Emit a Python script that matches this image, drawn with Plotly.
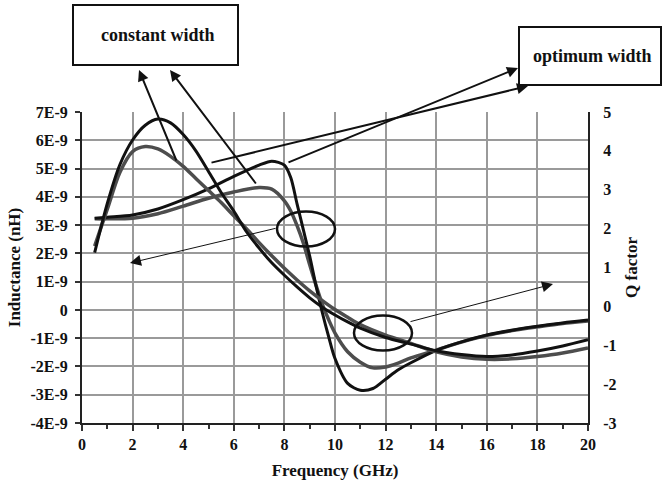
import numpy as np
import plotly.graph_objects as go

# ---------------- data ----------------
freq_L = [0.5, 1, 2, 3, 4, 5, 6, 7, 7.5, 8, 8.25, 8.5, 8.75, 9, 9.25, 9.5, 9.75,
          10, 10.5, 11, 11.5, 12, 12.5, 13, 14, 15, 16, 17, 18, 19, 20]
# inductance in nH (plotted in H)
L_const = [3.22, 3.22, 3.24, 3.40, 3.67, 3.95, 4.17, 4.33, 4.27, 3.86, 3.50, 2.98, 2.36, 1.60, 0.87, 0.20, -0.35,
           -0.82, -1.48, -1.85, -2.05, -2.02, -1.88, -1.70, -1.42, -1.14, -0.90, -0.73, -0.60, -0.48, -0.39]
L_opt = [3.24, 3.28, 3.36, 3.57, 3.90, 4.28, 4.72, 5.12, 5.26, 5.12, 4.68, 3.75, 2.83, 1.90, 0.85, -0.10, -0.95,
         -1.72, -2.60, -2.84, -2.78, -2.45, -2.12, -1.87, -1.43, -1.13, -0.89, -0.72, -0.58, -0.46, -0.36]

freq_Q = [0.5, 1, 1.5, 2, 2.5, 3, 3.5, 4, 4.5, 5, 5.5, 6, 6.5, 7, 7.5, 8, 8.5, 9, 9.5,
          10, 10.5, 11, 12, 13, 14, 15, 16, 17, 18, 19, 20]
Q_const = [1.55, 2.50, 3.45, 3.98, 4.11, 4.05, 3.86, 3.60, 3.29, 2.98, 2.67, 2.33, 2.00, 1.64, 1.30, 0.98, 0.68, 0.40, 0.15,
           -0.08, -0.28, -0.47, -0.74, -0.95, -1.17, -1.30, -1.36, -1.35, -1.29, -1.20, -1.07]
Q_opt = [1.38, 2.65, 3.65, 4.28, 4.66, 4.82, 4.72, 4.42, 4.00, 3.47, 2.93, 2.45, 1.92, 1.50, 1.12, 0.80, 0.50, 0.22, -0.02,
         -0.22, -0.40, -0.56, -0.80, -0.97, -1.14, -1.24, -1.29, -1.25, -1.15, -1.02, -0.86]

ind_tickvals = [7, 6, 5, 4, 3, 2, 1, 0, -1, -2, -3, -4]
ind_ticktext = ["7E-9", "6E-9", "5E-9", "4E-9", "3E-9", "2E-9", "1E-9", "0",
                "-1E-9", "-2E-9", "-3E-9", "-4E-9"]
q_tickvals = [5, 4, 3, 2, 1, 0, -1, -2, -3]
freq_ticks = [0, 2, 4, 6, 8, 10, 12, 14, 16, 18, 20]

# ---------------- figure ----------------
W, H = 662, 482
ML, MR, MT, MB = 82, 74, 112, 59
PW, PH = W - ML - MR, H - MT - MB

def px(x):
    return (x - ML) / PW

def py(y):
    return (H - MB - y) / PH

def bold(s):
    return "<b>" + str(s) + "</b>"

FONT = "Liberation Serif"
BLACK = "#111111"
GRAY = "#4d4d4d"

fig = go.Figure()
scale = 1e-9
fig.add_trace(go.Scatter(x=freq_L, y=np.array(L_const) * scale, mode="lines",
                         line=dict(color=GRAY, width=3.5, shape="spline", smoothing=0.8),
                         name="L constant width"))
fig.add_trace(go.Scatter(x=freq_L, y=np.array(L_opt) * scale, mode="lines",
                         line=dict(color=BLACK, width=3, shape="spline", smoothing=0.8),
                         name="L optimum width"))
fig.add_trace(go.Scatter(x=freq_Q, y=Q_const, mode="lines", yaxis="y2",
                         line=dict(color=GRAY, width=3.5, shape="spline", smoothing=0.8),
                         name="Q constant width"))
fig.add_trace(go.Scatter(x=freq_Q, y=Q_opt, mode="lines", yaxis="y2",
                         line=dict(color=BLACK, width=3, shape="spline", smoothing=0.8),
                         name="Q optimum width"))

tickfont = dict(family=FONT, size=16, color="#111")
titlefont = dict(family=FONT, size=17, color="#111")

fig.update_layout(
    width=W, height=H,
    margin=dict(l=ML, r=MR, t=MT, b=MB, autoexpand=False),
    paper_bgcolor="white", plot_bgcolor="white",
    showlegend=False,
    xaxis=dict(range=[0, 20], tickvals=freq_ticks, ticktext=[bold(v) for v in freq_ticks],
               ticks="outside", ticklen=6, tickcolor="#333", tickwidth=1.5,
               minor=dict(dtick=1, ticks="outside", ticklen=4, tickcolor="#333", tickwidth=1.5, showgrid=False),
               showgrid=True, gridcolor="#9a9a9a", gridwidth=1.5,
               showline=True, linecolor="#222", linewidth=2,
               zeroline=False, tickfont=tickfont,
               title=dict(text=bold("Frequency (GHz)"), font=titlefont, standoff=12)),
    yaxis=dict(range=[-4 * scale, 7 * scale], tickvals=[v * scale for v in ind_tickvals],
               ticktext=[bold(t) for t in ind_ticktext], ticks="outside", ticklen=5,
               tickcolor="#333", tickwidth=1.5,
               showgrid=True, gridcolor="#9a9a9a", gridwidth=1.5,
               showline=True, linecolor="#222", linewidth=2, zeroline=False,
               tickfont=tickfont, ticklabelstandoff=4,
               title=dict(text=bold("Inductance (nH)"), font=titlefont, standoff=6)),
    yaxis2=dict(range=[-3, 5], tickvals=q_tickvals, ticktext=[bold(v) for v in q_tickvals],
                overlaying="y", side="right",
                showgrid=False, zeroline=False, showline=True, linecolor="#222", linewidth=2,
                ticks="", tickfont=tickfont, ticklabelstandoff=10,
                title=dict(text=bold("Q factor"), font=titlefont, standoff=10)),
)

# boxes and ellipses
shapes = [
    dict(type="rect", xref="paper", yref="paper", x0=px(73), x1=px(238), y0=py(65), y1=py(5),
         line=dict(color="#111", width=2), fillcolor="white"),
    dict(type="rect", xref="paper", yref="paper", x0=px(519), x1=px(661), y0=py(85), y1=py(27),
         line=dict(color="#111", width=2), fillcolor="white"),
    dict(type="circle", xref="paper", yref="paper", x0=px(277), x1=px(335), y0=py(246.5), y1=py(211.5),
         line=dict(color="#111", width=2.5)),
    dict(type="circle", xref="paper", yref="paper", x0=px(354), x1=px(412), y0=py(350.5), y1=py(315.5),
         line=dict(color="#111", width=2.5)),
]
fig.update_layout(shapes=shapes)

labelfont = dict(family=FONT, size=18, color="#111")
annotations = [
    dict(text=bold("constant width"), xref="paper", yref="paper", x=px(158), y=py(35),
         showarrow=False, font=labelfont, xanchor="center", yanchor="middle"),
    dict(text=bold("optimum width"), xref="paper", yref="paper", x=px(592), y=py(56),
         showarrow=False, font=labelfont, xanchor="center", yanchor="middle"),
]

arrows = [
    # (tail_x, tail_y, head_x, head_y, width, size)
    (177, 162, 139, 70, 2, 1.1),
    (257, 185, 170, 70, 2, 1.1),
    (210, 163, 528, 86, 2, 1.1),
    (287, 163, 518, 68, 2, 1.1),
    (277, 228, 130, 263, 1, 2.2),
    (409, 322, 553, 284, 1, 2.2),
]
for tx, ty, hx, hy, w, s in arrows:
    annotations.append(dict(text="", xref="paper", yref="paper", x=px(hx), y=py(hy),
                            ax=tx - hx, ay=ty - hy, axref="pixel", ayref="pixel",
                            showarrow=True, arrowhead=2, arrowwidth=w, arrowsize=s,
                            arrowcolor="#111", standoff=0))
fig.update_layout(annotations=annotations)

fig.write_html("out.html")
